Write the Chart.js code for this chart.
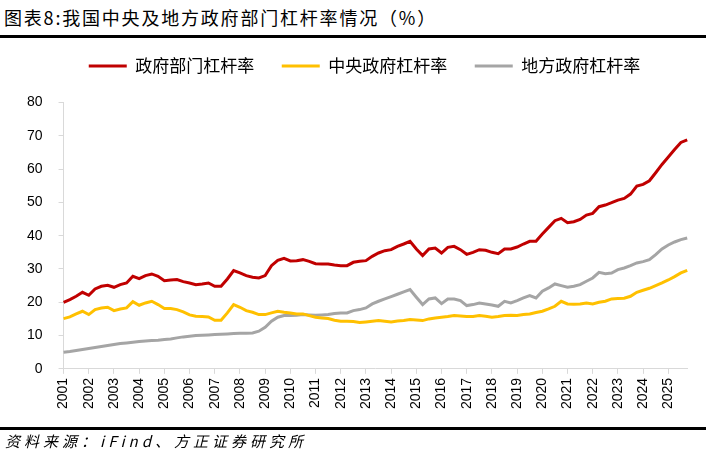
<!DOCTYPE html>
<html>
<head>
<meta charset="utf-8">
<script src="https://cdn.jsdelivr.net/npm/chart.js@4.4.1/dist/chart.umd.min.js"></script>
<style>
  body { margin: 0; background: #fff; }
  #page { position: relative; width: 708px; height: 463px; overflow: hidden; font-family: "Noto Sans CJK SC", sans-serif; }
  #title { position: absolute; left: 4px; top: 5px; font-size: 18px; line-height: 24px; color: #000; letter-spacing: 1.8px; white-space: nowrap; }
  .rule { position: absolute; left: 0; width: 706px; height: 3px; background: #000; }
  #source { position: absolute; left: 5px; top: 431px; font-size: 15px; line-height: 20px; font-style: italic; color: #000; letter-spacing: 4px; white-space: nowrap; }
  #wrap { position: absolute; left: 0; top: 0; width: 708px; height: 463px; }
</style>
</head>
<body>
<div id="page">
  <div id="title">图表8:我国中央及地方政府部门杠杆率情况（%）</div>
  <div class="rule" style="top:35px"></div>
  <div id="wrap"><canvas id="chart"></canvas></div>
  <div class="rule" style="top:427px"></div>
  <div id="source">资料来源：iFind、方正证券研究所</div>
</div>
<script>
// tick labels, one per year (quarterly data underneath)
const years = ["2001", "2002", "2003", "2004", "2005", "2006", "2007", "2008", "2009", "2010",
  "2011", "2012", "2013", "2014", "2015", "2016", "2017", "2018", "2019", "2020",
  "2021", "2022", "2023", "2024", "2025"];
const quarters = ["Q1", "Q2", "Q3", "Q4"];
const categories = years.flatMap((y) => quarters.map((q) => y + q));

// 政府部门杠杆率 (%)
const govTotal = [
  20.0, 20.8, 21.8, 23.0, 22.1, 24.0, 24.8, 25.1, 24.5, 25.3,
  25.8, 27.8, 27.1, 28.0, 28.5, 27.8, 26.5, 26.7, 26.8, 26.2,
  25.8, 25.3, 25.5, 25.8, 24.8, 24.8, 27.0, 29.5, 28.8, 28.0,
  27.5, 27.3, 28.0, 31.0, 32.6, 33.2, 32.4, 32.5, 32.8, 32.3,
  31.6, 31.5, 31.5, 31.2, 31.0, 31.0, 32.0, 32.3, 32.5, 33.8,
  34.8, 35.5, 35.8, 36.8, 37.5, 38.3, 36.0, 34.0, 36.0, 36.3,
  34.8, 36.5, 36.8, 35.8, 34.4, 35.0, 35.8, 35.6, 35.0, 34.6,
  36.0, 36.0, 36.6, 37.5, 38.3, 38.3, 40.5, 42.5, 44.5, 45.2,
  43.9, 44.2, 44.9, 46.2, 46.7, 48.7, 49.2, 49.9, 50.7, 51.2,
  52.5, 54.9, 55.4, 56.5, 58.9, 61.4, 63.6, 65.9, 68.0, 68.8
];

// 中央政府杠杆率 (%)
const govCentral = [
  15.1, 15.6, 16.5, 17.3, 16.3, 17.8, 18.3, 18.5, 17.5, 18.0,
  18.3, 20.2, 19.1, 19.8, 20.3, 19.3, 18.1, 18.1, 17.8, 17.1,
  16.2, 15.8, 15.7, 15.6, 14.6, 14.6, 16.8, 19.3, 18.5, 17.5,
  17.0, 16.3, 16.3, 16.8, 17.3, 17.0, 16.8, 16.5, 16.5, 16.0,
  15.5, 15.3, 15.1, 14.6, 14.3, 14.3, 14.2, 13.9, 14.1, 14.3,
  14.5, 14.3, 14.1, 14.4, 14.5, 14.8, 14.7, 14.5, 15.0, 15.3,
  15.5, 15.7, 16.0, 15.9, 15.7, 15.7, 16.0, 15.8, 15.5, 15.7,
  16.0, 16.1, 16.0, 16.3, 16.5, 16.9, 17.3, 18.0, 18.8, 20.3,
  19.5, 19.4, 19.5, 19.8, 19.5, 20.0, 20.3, 21.0, 21.1, 21.2,
  21.8, 23.0, 23.6, 24.2, 25.0, 25.8, 26.7, 27.7, 28.8, 29.6
];

// 地方政府杠杆率 (%)
const govLocal = [
  5.0, 5.2, 5.5, 5.8, 6.1, 6.4, 6.7, 7.0, 7.3, 7.6,
  7.8, 8.0, 8.2, 8.4, 8.5, 8.6, 8.8, 9.0, 9.3, 9.6,
  9.8, 10.0, 10.1, 10.2, 10.3, 10.4, 10.5, 10.6, 10.7, 10.7,
  10.8, 11.3, 12.5, 14.3, 15.5, 16.0, 16.0, 16.1, 16.3, 16.2,
  16.1, 16.2, 16.3, 16.6, 16.8, 16.8, 17.5, 17.8, 18.3, 19.5,
  20.3, 21.0, 21.7, 22.4, 23.1, 23.8, 21.5, 19.3, 21.0, 21.3,
  19.6, 21.0, 21.0, 20.5, 19.0, 19.3, 19.8, 19.5, 19.2, 18.8,
  20.3, 19.8, 20.5, 21.3, 22.0, 21.3, 23.3, 24.3, 25.5, 25.0,
  24.5, 24.8, 25.3, 26.3, 27.3, 29.0, 28.6, 28.8, 29.8, 30.3,
  31.0, 31.8, 32.2, 32.8, 34.3, 36.0, 37.2, 38.1, 38.8, 39.3
];

const axisGray = "#d9d9d9";
const tickFont = { family: "'Liberation Sans', Arial, sans-serif", size: 14 };

function series(label, data, color) {
  return {
    label: label,
    data: data,
    borderColor: color,
    backgroundColor: color,
    borderWidth: 3,
    pointRadius: 0,
    tension: 0,
    fill: false,
  };
}

// push the plot down below the legend, and nudge the legend a little right
const legendGap = {
  id: "legendGap",
  beforeLayout(chart) {
    const lg = chart.legend;
    if (!lg || lg._gapPatched) return;
    const fit = lg.fit;
    lg.fit = function () {
      fit.call(this);
      this.height += 18;
    };
    lg._gapPatched = true;
  },
  afterLayout(chart) {
    const lg = chart.legend;
    if (!lg) return;
    lg.left += 14;
    lg.right += 14;
  },
};

new Chart(document.getElementById("chart"), {
  type: "line",
  data: {
    labels: categories,
    datasets: [
      series("政府部门杠杆率", govTotal, "#c00000"),
      series("中央政府杠杆率", govCentral, "#ffc000"),
      series("地方政府杠杆率", govLocal, "#a5a5a5"),
    ],
  },
  plugins: [legendGap],
  options: {
    responsive: true,
    maintainAspectRatio: false,
    animation: false,
    layout: { padding: { top: 30, left: 11, right: 18, bottom: 50 } },
    plugins: {
      tooltip: { enabled: false },
      legend: {
        position: "top",
        labels: {
          font: { family: "'Noto Sans CJK SC', sans-serif", size: 17 },
          color: "#000",
          boxWidth: 38,
          boxHeight: 3,
          padding: 27.5,
          // plain line swatches, no outline
          generateLabels: (chart) =>
            Chart.defaults.plugins.legend.labels.generateLabels(chart).map((item) => ({ ...item, lineWidth: 0 })),
        },
      },
    },
    scales: {
      x: {
        offset: false,
        grid: {
          drawOnChartArea: false,
          tickLength: 5,
          color: (ctx) => (ctx.index % 4 === 0 ? axisGray : "rgba(0,0,0,0)"),
        },
        border: { display: true, color: axisGray },
        ticks: {
          autoSkip: false,
          minRotation: 90,
          maxRotation: 90,
          padding: 4,
          color: "#000",
          font: tickFont,
          callback: (val, idx) => (idx % 4 === 0 ? years[idx / 4] : ""),
        },
      },
      y: {
        min: 0,
        max: 80,
        grid: { drawOnChartArea: false, tickLength: 5, color: axisGray },
        border: { display: true, color: axisGray },
        ticks: { stepSize: 10, padding: 16, color: "#000", font: tickFont },
      },
    },
  },
});
</script>
</body>
</html>
